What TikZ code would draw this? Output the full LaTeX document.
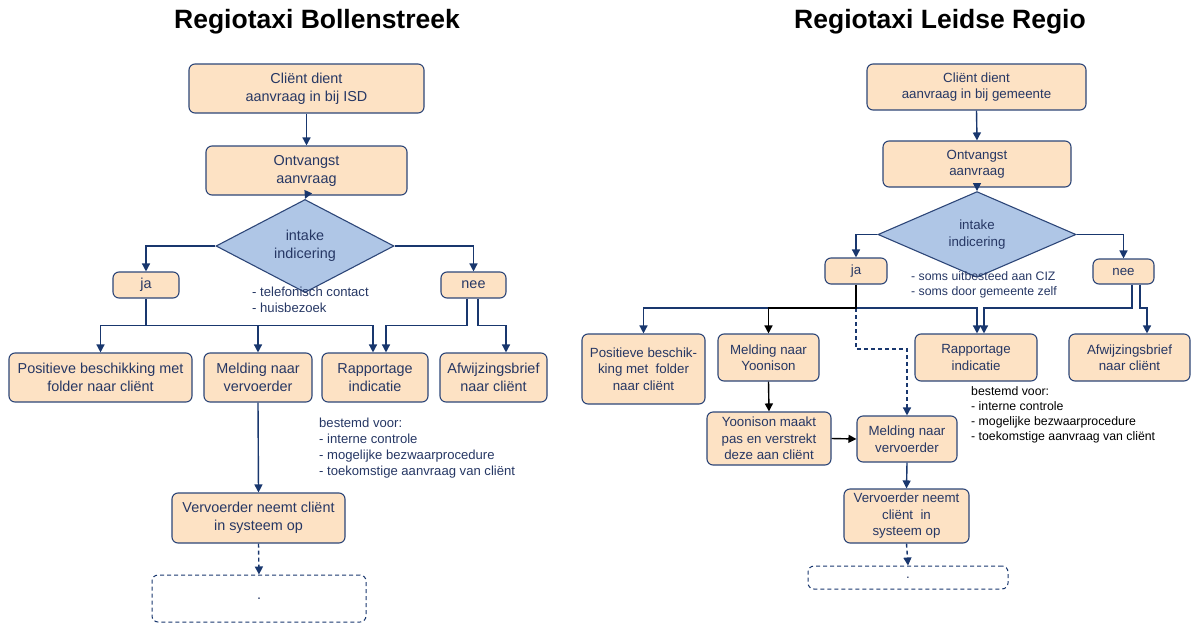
\documentclass[tikz,border=0pt]{standalone}
\usepackage{fontspec}
\setmainfont{Liberation Sans}
\usetikzlibrary{shapes.geometric,arrows.meta,calc}
\definecolor{peach}{RGB}{253,226,196}
\definecolor{bordc}{RGB}{45,70,120}
\definecolor{linec}{RGB}{25,55,110}
\definecolor{txtc}{RGB}{38,55,100}
\definecolor{diac}{RGB}{175,198,230}
\tikzset{
  box/.style={draw=bordc, line width=1.1pt, fill=peach, rounded corners=6pt, align=center, inner sep=0pt, text=txtc},
  dia/.style={draw=bordc, line width=1.1pt, fill=diac, diamond, align=center, inner sep=0pt, text=txtc},
  dbox/.style={draw=linec, line width=1pt, dash pattern=on 4pt off 3pt, rounded corners=6pt, inner sep=0pt, text=txtc},
  lf/.style={font=\fontsize{14.4}{18}\selectfont},
  rf/.style={font=\fontsize{13.3}{16.5}\selectfont},
  note/.style={align=left, inner sep=0pt, text=txtc, font=\fontsize{13.1}{16}\selectfont},
  rnote/.style={align=left, inner sep=0pt, text=txtc, font=\fontsize{12.3}{15}\selectfont},
  titlefont/.style={font=\bfseries\fontsize{26.5}{30}\selectfont, text=black},
  con/.style={draw=linec, line width=1.4pt},
  arr/.style={con, -{Triangle[length=8pt,width=8pt]}},
  blkarr/.style={draw=black, line width=1.4pt, -{Triangle[length=8pt,width=8pt]}},
  dsh/.style={dash pattern=on 4pt off 3pt}
}
\begin{document}
\begin{tikzpicture}[x=1pt,y=-1pt]
\useasboundingbox (0,0) rectangle (1191,624);

% titles
\node[titlefont] (t1) at (317,22) {Regiotaxi Bollenstreek};
\node[titlefont] (t2) at (940,22) {Regiotaxi Leidse Regio};

% ---------------- left diagram ----------------
\node[box,lf,minimum width=235pt,minimum height=49pt] (L1) at (306.5,88.5) {Cliënt dient\\aanvraag in bij ISD};
\node[box,lf,minimum width=201pt,minimum height=49pt] (L2) at (306.5,170.5) {Ontvangst\\aanvraag};
\node[dia,lf,minimum width=178pt,minimum height=68pt] (Ld) at (305,246) {intake\\indicering};
\node[box,lf,minimum width=66pt,minimum height=26pt] (ja) at (146,285) {ja};
\node[box,lf,minimum width=65pt,minimum height=26pt] (nee) at (473.5,285) {nee};
\node[box,lf,minimum width=183pt,minimum height=49pt] (Pos) at (100.5,377.5) {Positieve beschikking met\\folder naar cliënt};
\node[box,lf,minimum width=108pt,minimum height=49pt] (Mel) at (258,377.5) {Melding naar\\vervoerder};
\node[box,lf,minimum width=106pt,minimum height=49pt] (Rap) at (375,377.5) {Rapportage\\indicatie};
\node[box,lf,minimum width=107pt,minimum height=49pt] (Afw) at (493.5,377.5) {Afwijzingsbrief\\naar cliënt};
\node[box,lf,minimum width=173pt,minimum height=50pt] (Verv) at (258.5,518) {Vervoerder neemt cliënt\\in systeem op};
\node[dbox,lf,minimum width=214pt,minimum height=47pt] (Dsh) at (259,598.5) {.};

\node[note,anchor=west] (n1) at (252,300) {- telefonisch contact\\- huisbezoek};
\node[note,anchor=west] (n2) at (319,448) {bestemd voor:\\- interne controle\\- mogelijke bezwaarprocedure\\- toekomstige aanvraag van cliënt};

\draw[arr] (L1.south) -- (L2.north);
\draw[arr] (L2.south) -- (Ld.north);
\draw[arr] (Ld.west) -| (ja.north);
\draw[arr] (Ld.east) -| (nee.north);
\coordinate (yL) at (0,325.5);
\coordinate (jL) at (ja.south |- yL);
\draw[arr] (ja.south) -- (jL) -| (Pos.north);
\draw[arr] (jL) -| (Mel.north);
\draw[arr] (jL) -| ([xshift=-2pt]Rap.north);
\coordinate (nL) at ([xshift=-6.5pt]nee.south);
\coordinate (nR) at ([xshift=4.5pt]nee.south);
\draw[arr] (nL) -- (nL |- yL) -| ([xshift=11pt]Rap.north);
\draw[arr] (nR) -- (nR |- yL) -| ([xshift=12.5pt]Afw.north);
\draw[arr] (Mel.south) -- (Verv.north);
\draw[arr,dsh] (Verv.south) -- (Dsh.north);

% ---------------- right diagram ----------------
\node[box,rf,minimum width=219pt,minimum height=46pt] (R1) at (976.5,87) {Cliënt dient\\aanvraag in bij gemeente};
\node[box,rf,minimum width=188pt,minimum height=46pt] (R2) at (977,164) {Ontvangst\\aanvraag};
\node[dia,rf,minimum width=198pt,minimum height=63pt] (Rd) at (977,234.5) {intake\\indicering};
\node[box,rf,minimum width=62pt,minimum height=26pt] (rja) at (856,271) {ja};
\node[box,rf,minimum width=61pt,minimum height=25pt] (rnee) at (1123.5,271.5) {nee};
\node[box,rf,minimum width=123pt,minimum height=70pt] (rPos) at (643.5,369) {Positieve beschik-\\king met\ \ folder\\naar cliënt};
\node[box,rf,minimum width=101pt,minimum height=47pt] (rMY) at (768.5,357.5) {Melding naar\\Yoonison};
\node[box,rf,minimum width=122pt,minimum height=47pt] (rRap) at (976,357.5) {Rapportage\\indicatie};
\node[box,rf,minimum width=121pt,minimum height=47pt] (rAfw) at (1129.5,357.5) {Afwijzingsbrief\\naar cliënt};
\node[box,rf,minimum width=124pt,minimum height=53pt] (rYM) at (769,438.5) {Yoonison maakt\\pas en verstrekt\\deze aan cliënt};
\node[box,rf,minimum width=100pt,minimum height=46pt] (rMV) at (907,439) {Melding naar\\vervoerder};
\node[box,rf,minimum width=125pt,minimum height=54pt] (rVerv) at (906.5,516) {Vervoerder neemt\\cliënt\ \ in\\systeem op};
\node[dbox,rf,minimum width=200pt,minimum height=23pt] (rDsh) at (908,577.5) {.};

\node[rnote,anchor=west] (n3) at (911,284.5) {- soms uitbesteed aan CIZ\\- soms door gemeente zelf};
\node[rnote,anchor=west,text=black] (n4) at (971,415) {bestemd voor:\\- interne controle\\- mogelijke bezwaarprocedure\\- toekomstige aanvraag van cliënt};

\draw[arr] (R1.south) -- (R2.north);
\draw[arr] (R2.south) -- (Rd.north);
\draw[arr] (Rd.west) -| (rja.north);
\draw[arr] (Rd.east) -| (rnee.north);
\coordinate (ryL) at (0,308);
\coordinate (rdy) at (0,349);
\coordinate (rjL) at (rja.south |- ryL);
\draw[arr] (rjL) -| (rPos.north);
\draw[arr] (rjL) -| ([xshift=1pt]rRap.north);
\draw[arr,dsh] (rjL) -- (rjL |- rdy) -| (rMV.north);
\draw[blkarr] (rja.south) -- (rjL) -| (rMY.north);
\coordinate (rnL) at ([xshift=8.5pt]rnee.south);
\coordinate (rnR) at ([xshift=16.5pt]rnee.south);
\draw[arr] (rnL) -- (rnL |- ryL) -| ([xshift=8pt]rRap.north);
\draw[arr] (rnR) -- (rnR |- ryL) -| ([xshift=17.5pt]rAfw.north);
\draw[blkarr] (rMY.south) -- (rYM.north);
\draw[blkarr] (rYM.east) -- (rMV.west);
\draw[arr] (rMV.south) -- (rVerv.north);
\draw[arr,dsh] (rVerv.south) -- (rDsh.north);
\end{tikzpicture}
\end{document}
